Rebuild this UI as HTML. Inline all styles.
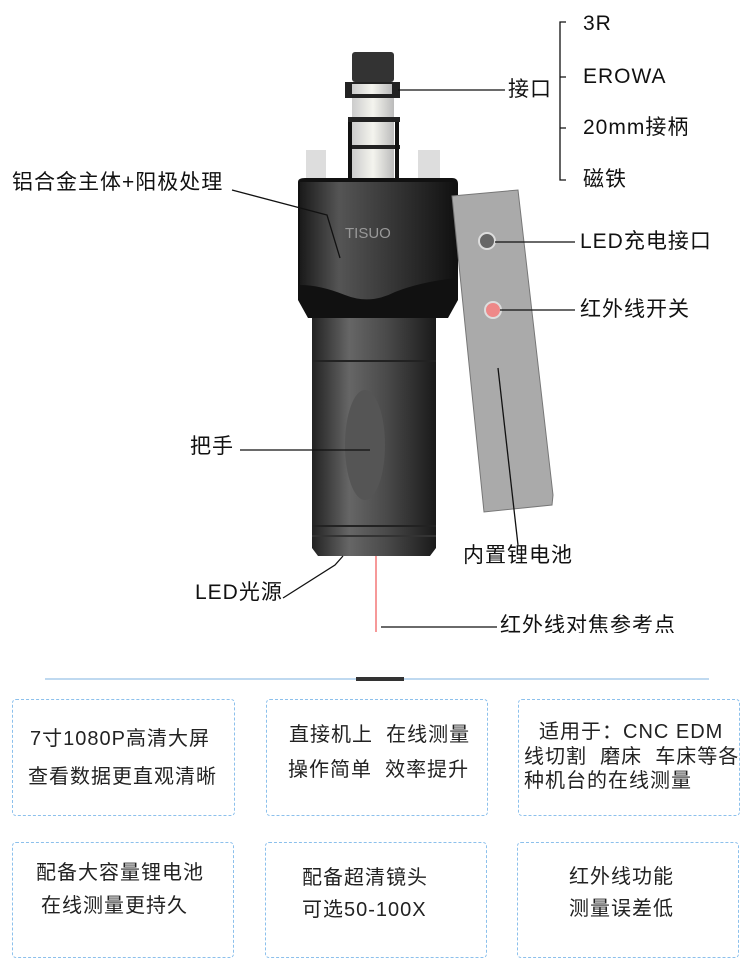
<!DOCTYPE html>
<html><head><meta charset="utf-8">
<style>
body{margin:0;width:750px;height:977px;background:#fff;position:relative;overflow:hidden;font-family:"Liberation Sans","Noto Sans CJK SC",sans-serif;color:#111}
.t{position:absolute;font-size:21px;line-height:24px;white-space:nowrap;letter-spacing:1px}
.box{position:absolute;border:1px dashed #8cc0ec;border-radius:4px;box-sizing:border-box;font-size:20px;line-height:30px;color:#222;letter-spacing:1px}
.box div{position:absolute;white-space:nowrap}
</style></head><body>
<svg width="750" height="977" style="position:absolute;left:0;top:0">
<defs>
<linearGradient id="g1" x1="0" x2="1"><stop offset="0" stop-color="#1a1a1a"/><stop offset=".25" stop-color="#555"/><stop offset=".55" stop-color="#3a3a3a"/><stop offset="1" stop-color="#111"/></linearGradient>
<linearGradient id="g2" x1="0" x2="1"><stop offset="0" stop-color="#222"/><stop offset=".3" stop-color="#666"/><stop offset=".6" stop-color="#4a4a4a"/><stop offset="1" stop-color="#1a1a1a"/></linearGradient>
<linearGradient id="g3" x1="0" x2="1"><stop offset="0" stop-color="#ccc"/><stop offset=".5" stop-color="#f4f4ee"/><stop offset="1" stop-color="#bbb"/></linearGradient>
</defs>
<rect x="352" y="52" width="42" height="30" rx="3" fill="#333"/>
<rect x="345" y="82" width="55" height="16" fill="#222"/>
<rect x="352" y="84" width="40" height="10" fill="url(#g3)"/>
<rect x="352" y="98" width="42" height="80" fill="url(#g3)"/>
<rect x="348" y="117" width="52" height="5" fill="#222"/>
<rect x="348" y="145" width="52" height="4" fill="#222"/>
<rect x="348" y="122" width="4" height="56" fill="#111"/><rect x="395" y="122" width="4" height="56" fill="#111"/>
<rect x="306" y="150" width="20" height="30" fill="#ddd"/><rect x="418" y="150" width="22" height="30" fill="#ddd"/>
<path d="M298 182 Q298 178 305 178 L452 178 Q458 178 458 184 L458 300 L448 318 L308 318 L298 300 Z" fill="#111"/>
<path d="M300 182 L456 182 L456 278 Q420 282 395 292 Q370 305 345 295 Q320 285 300 285 Z" fill="url(#g1)"/>
<text x="345" y="238" font-size="15" fill="#999" font-family="Liberation Sans">TISUO</text>
<path d="M312 318 L436 318 L436 548 L430 556 L318 556 L312 548 Z" fill="url(#g2)"/>
<ellipse cx="365" cy="445" rx="20" ry="55" fill="#555"/>
<rect x="312" y="360" width="124" height="2" fill="#222"/><rect x="312" y="525" width="124" height="2" fill="#222"/><rect x="312" y="535" width="124" height="2" fill="#333"/>
<line x1="376" y1="556" x2="376" y2="632" stroke="#e33" stroke-width="1"/>
<path d="M452 196 L518 190 L553 495 L552 505 L484 512 Z" fill="#aaa" stroke="#777"/>
<circle cx="487" cy="241" r="8" fill="#666" stroke="#ddd" stroke-width="2"/>
<circle cx="493" cy="310" r="8" fill="#e88" stroke="#ddd" stroke-width="2"/>
<g stroke="#111" stroke-width="1.3" fill="none">
<line x1="398" y1="90" x2="505" y2="90"/>
<path d="M566 22 L560 22 L560 180 L566 180 M560 77 L566 77 M560 128 L566 128"/>
<path d="M232 190 L327 215 L340 258"/>
<line x1="495" y1="242" x2="575" y2="242"/>
<line x1="500" y1="310" x2="575" y2="310"/>
<line x1="240" y1="450" x2="370" y2="450"/>
<line x1="498" y1="368" x2="518" y2="545"/>
<path d="M283 598 L335 565 L343 556"/>
<line x1="381" y1="627" x2="497" y2="627"/>
</g>
<line x1="45" y1="679" x2="709" y2="679" stroke="#7fb3e0" stroke-width="1"/>
<rect x="356" y="677" width="48" height="4" fill="#333"/>
</svg>
<div class="t" style="left:583px;top:12px">3R</div>
<div class="t" style="left:583px;top:65px">EROWA</div>
<div class="t" style="left:508px;top:78px">接口</div>
<div class="t" style="left:583px;top:116px">20mm接柄</div>
<div class="t" style="left:583px;top:168px">磁铁</div>
<div class="t" style="left:12px;top:171px">铝合金主体+阳极处理</div>
<div class="t" style="left:580px;top:230px">LED充电接口</div>
<div class="t" style="left:580px;top:298px">红外线开关</div>
<div class="t" style="left:190px;top:435px">把手</div>
<div class="t" style="left:463px;top:544px">内置锂电池</div>
<div class="t" style="left:195px;top:581px">LED光源</div>
<div style="position:absolute;left:500px;top:614px;height:19px;overflow:hidden"><div class="t" style="position:static">红外线对焦参考点</div></div>
<div class="box" style="left:12px;top:699px;width:223px;height:117px"><div style="left:17px;top:24px">7寸1080P高清大屏</div><div style="left:15px;top:62px">查看数据更直观清晰</div></div>
<div class="box" style="left:266px;top:699px;width:222px;height:117px"><div style="left:22px;top:20px">直接机上&nbsp; 在线测量</div><div style="left:21px;top:55px">操作简单&nbsp; 效率提升</div></div>
<div class="box" style="left:518px;top:699px;width:222px;height:117px"><div style="left:20px;top:17px">适用于：CNC EDM</div><div style="left:5px;top:42px">线切割&nbsp; 磨床&nbsp; 车床等各</div><div style="left:5px;top:66px">种机台的在线测量</div></div>
<div class="box" style="left:12px;top:842px;width:222px;height:116px"><div style="left:23px;top:15px">配备大容量锂电池</div><div style="left:28px;top:48px">在线测量更持久</div></div>
<div class="box" style="left:265px;top:842px;width:222px;height:116px"><div style="left:36px;top:20px">配备超清镜头</div><div style="left:36px;top:52px">可选50-100X</div></div>
<div class="box" style="left:517px;top:842px;width:222px;height:116px"><div style="left:51px;top:19px">红外线功能</div><div style="left:51px;top:51px">测量误差低</div></div>
</body></html>
